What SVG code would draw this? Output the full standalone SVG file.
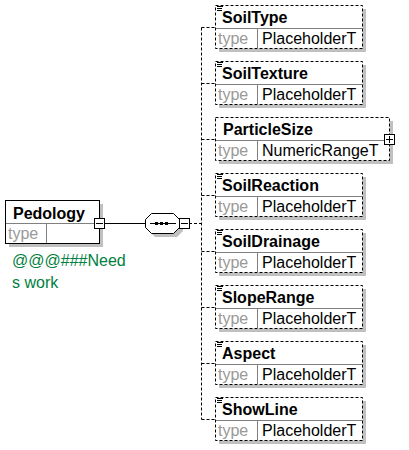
<svg xmlns="http://www.w3.org/2000/svg" width="409" height="450" viewBox="0 0 409 450">
<defs>
<style>
.sh{fill:#c0c0c0;stroke:none}
.bx{fill:#fff;stroke:#000;stroke-width:1}
.dbx{fill:#fff;stroke:#000;stroke-width:1;stroke-dasharray:3,2}
.dv{stroke:#808080;stroke-width:1;fill:none}
.nm{font-family:"Liberation Sans",Arial,sans-serif;font-size:16px;font-weight:bold;fill:#000}
.tp{font-family:"Liberation Sans",Arial,sans-serif;font-size:16px;fill:#999}
.tv{font-family:"Liberation Sans",Arial,sans-serif;font-size:16px;fill:#000}
.ln{stroke:#000;stroke-width:1;fill:none}
.dl{stroke:#000;stroke-width:1;fill:none;stroke-dasharray:3,2}
.doc{font-family:"Liberation Sans",Arial,sans-serif;font-size:16px;fill:#008040}
</style>
<g id="child">
<rect class="sh" x="4" y="4" width="147" height="43"/>
<rect class="dbx" x="0.5" y="0.5" width="147" height="43"/>
<line class="dv" x1="1" y1="23.5" x2="147" y2="23.5"/>
<line class="dv" x1="42.5" y1="24" x2="42.5" y2="43"/>
<path class="ln" d="M2,1.5H8M2,3.5H7M2,5.5H7"/>
</g>
</defs>
<g id="connectors">
<line class="ln" x1="104" y1="223.5" x2="145" y2="223.5"/>
<line class="dl" x1="189" y1="223.5" x2="201.5" y2="223.5"/>
<line class="dl" x1="201.5" y1="27.5" x2="201.5" y2="419.5"/>
<line class="dl" x1="201.5" y1="27.5" x2="215" y2="27.5"/>
<line class="dl" x1="201.5" y1="83.5" x2="215" y2="83.5"/>
<line class="dl" x1="201.5" y1="139.5" x2="215" y2="139.5"/>
<line class="dl" x1="201.5" y1="195.5" x2="215" y2="195.5"/>
<line class="dl" x1="201.5" y1="251.5" x2="215" y2="251.5"/>
<line class="dl" x1="201.5" y1="307.5" x2="215" y2="307.5"/>
<line class="dl" x1="201.5" y1="363.5" x2="215" y2="363.5"/>
<line class="dl" x1="201.5" y1="419.5" x2="215" y2="419.5"/>
</g>
<g id="Pedology">
<rect class="sh" x="9" y="204" width="94" height="43"/>
<rect class="bx" x="5.5" y="200.5" width="94" height="43"/>
<line class="dv" x1="6" y1="223.5" x2="99" y2="223.5"/>
<line class="dv" x1="46.5" y1="224" x2="46.5" y2="243"/>
<text class="nm" x="13" y="219">Pedology</text>
<text class="tp" x="8" y="239">type</text>
<rect class="bx" x="94.5" y="218.5" width="10" height="10"/>
<line class="ln" x1="96" y1="223.5" x2="103" y2="223.5"/>
<text class="doc" x="12" y="266">@@@###Need</text>
<text class="doc" x="12" y="288">s work</text>
</g>
<g id="sequence">
<polygon class="sh" points="155,217 177,217 183,223 183,231 177,237 155,237 149,231 149,223"/>
<polygon class="bx" points="151.5,213.5 173.5,213.5 179.5,219.5 179.5,227.5 173.5,233.5 151.5,233.5 145.5,227.5 145.5,219.5"/>
<line class="ln" x1="150" y1="223.5" x2="176" y2="223.5"/>
<rect x="155" y="222" width="3" height="3" fill="#000"/>
<rect x="160" y="222" width="3" height="3" fill="#000"/>
<rect x="165" y="222" width="3" height="3" fill="#000"/>
<rect class="bx" x="179.5" y="218.5" width="10" height="10"/>
<line class="ln" x1="181" y1="223.5" x2="188" y2="223.5"/>
</g>
<g id="SoilType">
<use href="#child" x="215" y="5"/>
<text class="nm" x="222" y="23">SoilType</text>
<text class="tp" x="218" y="44">type</text>
<text class="tv" x="262" y="44">PlaceholderT</text>
</g>
<g id="SoilTexture">
<use href="#child" x="215" y="61"/>
<text class="nm" x="222" y="79">SoilTexture</text>
<text class="tp" x="218" y="100">type</text>
<text class="tv" x="262" y="100">PlaceholderT</text>
</g>
<g id="ParticleSize">
<rect class="sh" x="219" y="121" width="174" height="43"/>
<rect class="dbx" x="215.5" y="117.5" width="174" height="43"/>
<line class="dv" x1="216" y1="140.5" x2="389" y2="140.5"/>
<line class="dv" x1="257.5" y1="141" x2="257.5" y2="160"/>
<text class="nm" x="223" y="135">ParticleSize</text>
<text class="tp" x="218" y="156">type</text>
<text class="tv" x="262" y="156">NumericRangeT</text>
<rect class="bx" x="384.5" y="134.5" width="10" height="10"/>
<line class="ln" x1="386" y1="139.5" x2="393" y2="139.5"/>
<line class="ln" x1="389.5" y1="136" x2="389.5" y2="143"/>
</g>
<g id="SoilReaction">
<use href="#child" x="215" y="173"/>
<text class="nm" x="222" y="191">SoilReaction</text>
<text class="tp" x="218" y="212">type</text>
<text class="tv" x="262" y="212">PlaceholderT</text>
</g>
<g id="SoilDrainage">
<use href="#child" x="215" y="229"/>
<text class="nm" x="222" y="247">SoilDrainage</text>
<text class="tp" x="218" y="268">type</text>
<text class="tv" x="262" y="268">PlaceholderT</text>
</g>
<g id="SlopeRange">
<use href="#child" x="215" y="285"/>
<text class="nm" x="222" y="303">SlopeRange</text>
<text class="tp" x="218" y="324">type</text>
<text class="tv" x="262" y="324">PlaceholderT</text>
</g>
<g id="Aspect">
<use href="#child" x="215" y="341"/>
<text class="nm" x="222" y="359">Aspect</text>
<text class="tp" x="218" y="380">type</text>
<text class="tv" x="262" y="380">PlaceholderT</text>
</g>
<g id="ShowLine">
<use href="#child" x="215" y="397"/>
<text class="nm" x="222" y="415">ShowLine</text>
<text class="tp" x="218" y="436">type</text>
<text class="tv" x="262" y="436">PlaceholderT</text>
</g>
</svg>
